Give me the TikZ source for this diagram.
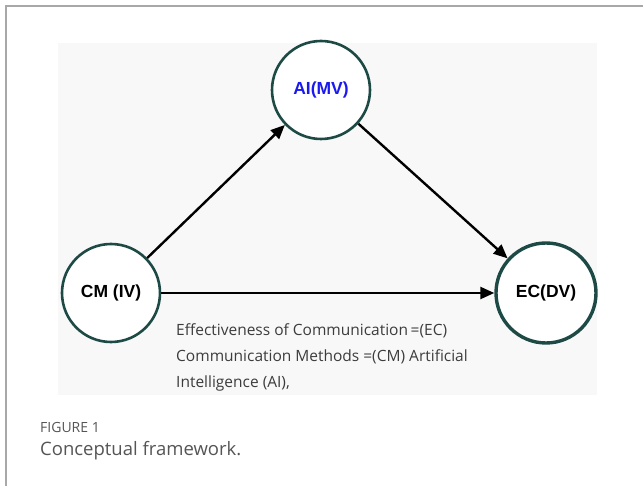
\documentclass[tikz,border=0pt]{standalone}
\usepackage{fontspec}
\setmainfont{Open Sans}
\newfontfamily\lblfont{Liberation Sans}
\usetikzlibrary{arrows.meta}
\definecolor{ringcol}{HTML}{1E4A46}
\definecolor{bgpanel}{HTML}{F8F8F8}
\definecolor{framecol}{HTML}{A8A8A8}
\definecolor{legcol}{HTML}{3C3C3C}
\definecolor{capcol}{HTML}{555555}
\definecolor{aiblue}{HTML}{1A1AF0}
\tikzset{
  varnode/.style={draw=ringcol, line width=2.6pt, fill=white, circle, minimum size=98pt, inner sep=0pt, font=\lblfont\bfseries\fontsize{17.5}{19}\selectfont},
  link/.style={line width=2.4pt, -{Triangle[length=14pt,width=12pt]}},
  legtext/.style={anchor=west, text=legcol, font=\fontsize{15.5}{18}\selectfont, inner sep=0pt}
}
\begin{document}
\begin{tikzpicture}[x=1pt,y=-1pt]
\useasboundingbox (0,0) rectangle (643,486);
\fill[white] (0,0) rectangle (643,486);
\draw[framecol, line width=1.8pt] (6,486) -- (6,6) -- (643,6);
\fill[bgpanel] (58,43) rectangle (597,395);
\node[varnode] (ai) at (321,90) {\textcolor{aiblue}{AI(MV)}};
\node[varnode] (cm) at (111,293) {CM (IV)};
\node[varnode, line width=3.4pt, minimum size=100pt] (ec) at (546,293) {EC(DV)};
\draw[link] (cm) -- (ai);
\draw[link] (ai) -- (ec);
\draw[link] (cm) -- (ec);
\node[legtext] (l1) at (176,331) {Effectiveness of Communication\,=(EC)};
\node[legtext] (l2) at (176,357) {Communication Methods =(CM) Artificial};
\node[legtext] (l3) at (176,383) {Intelligence (AI),};
\node[anchor=west, inner sep=0pt, text=capcol, font=\fontsize{14}{16}\selectfont] (fig) at (40,427) {FIGURE 1};
\node[anchor=west, inner sep=0pt, text=capcol, font=\fontsize{18.5}{21}\selectfont] (cap) at (40,451) {Conceptual framework.};
\end{tikzpicture}
\end{document}
